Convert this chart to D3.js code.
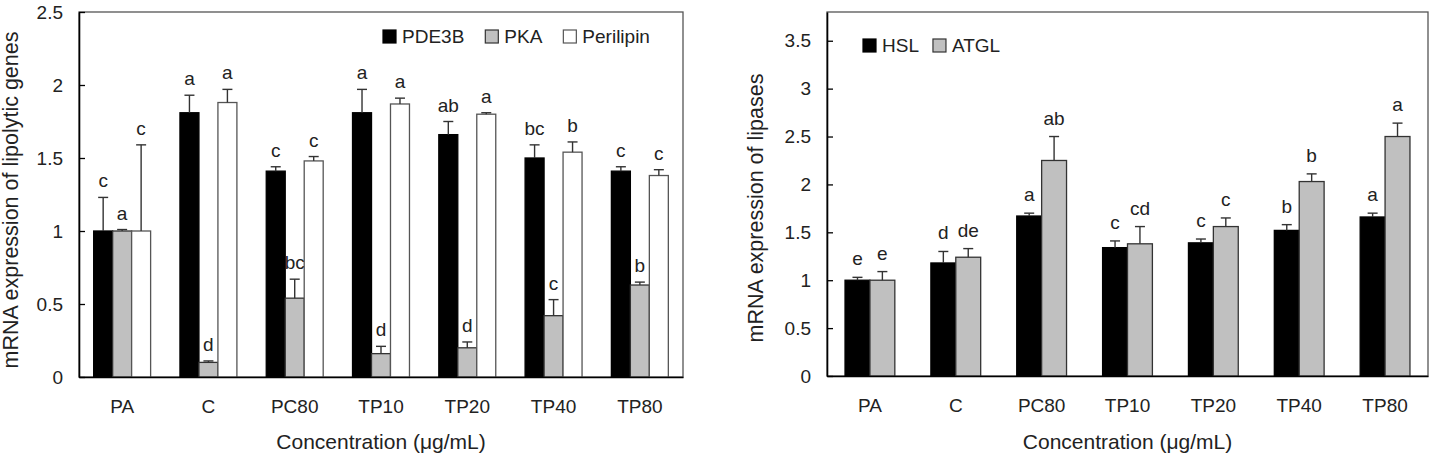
<!DOCTYPE html>
<html>
<head>
<meta charset="utf-8">
<script src="https://cdn.jsdelivr.net/npm/d3@7"></script>
<style>
  body { margin: 0; background: #fff; }
  svg { display: block; font-family: "Liberation Sans", Arial, sans-serif; }
</style>
</head>
<body>
<svg id="chart"></svg>
<script>
var width = 1438;
var height = 457;

// categories on the x axis (same for both panels)
var categories = ["PA", "C", "PC80", "TP10", "TP20", "TP40", "TP80"];

// left panel: lipolytic genes
var lipoNames = ["PDE3B", "PKA", "Perilipin"];
var pde3b = [1.0, 1.81, 1.41, 1.81, 1.66, 1.5, 1.41];
var pde3bErr = [0.23, 0.12, 0.03, 0.16, 0.09, 0.09, 0.03];
var pde3bSig = ["c", "a", "c", "a", "ab", "bc", "c"];
var pka = [1.0, 0.1, 0.54, 0.16, 0.2, 0.42, 0.63];
var pkaErr = [0.01, 0.01, 0.13, 0.05, 0.04, 0.11, 0.02];
var pkaSig = ["a", "d", "bc", "d", "d", "c", "b"];
var perilipin = [1.0, 1.88, 1.48, 1.87, 1.8, 1.54, 1.38];
var perilipinErr = [0.59, 0.09, 0.03, 0.04, 0.01, 0.07, 0.04];
var perilipinSig = ["c", "a", "c", "a", "a", "b", "c"];
var lipoTicks = [0, 0.5, 1, 1.5, 2, 2.5];

// right panel: lipases
var lipaseNames = ["HSL", "ATGL"];
var hsl = [1.0, 1.18, 1.67, 1.34, 1.39, 1.52, 1.66];
var hslErr = [0.03, 0.12, 0.03, 0.07, 0.04, 0.06, 0.04];
var hslSig = ["e", "d", "a", "c", "c", "b", "a"];
var atgl = [1.0, 1.24, 2.25, 1.38, 1.56, 2.03, 2.5];
var atglErr = [0.09, 0.09, 0.25, 0.18, 0.09, 0.08, 0.14];
var atglSig = ["e", "de", "ab", "cd", "c", "b", "a"];
var lipaseTicks = [0, 0.5, 1, 1.5, 2, 2.5, 3, 3.5];

var svg = d3.select("#chart").attr("width", width).attr("height", height);

function drawPanel(cfg) {
  var g = svg.append("g").attr("transform", "translate(" + cfg.left + "," + cfg.top + ")");
  var w = cfg.width, h = cfg.height;

  var x0 = d3.scaleBand().domain(categories).range([0, w])
    .paddingInner(cfg.pad).paddingOuter(cfg.pad / 2);
  var x1 = d3.scaleBand().domain(cfg.names).range([0, x0.bandwidth()]);
  var y = d3.scaleLinear().domain(cfg.domain).range([h, 0]);

  // frame
  g.append("rect").attr("width", w).attr("height", h)
    .attr("fill", "none").attr("stroke", "#555").attr("stroke-width", 1.3);

  var rows = [];
  cfg.names.forEach(function (name, s) {
    categories.forEach(function (c, i) {
      rows.push({ cat: c, name: name, s: s,
        v: cfg.values[s][i], e: cfg.errors[s][i], sig: cfg.sig[s][i] });
    });
  });

  var groups = g.selectAll(".bar").data(rows).enter().append("g").attr("class", "bar")
    .attr("transform", function (d) { return "translate(" + (x0(d.cat) + x1(d.name)) + ",0)"; });

  groups.append("rect")
    .attr("y", function (d) { return y(d.v); })
    .attr("width", x1.bandwidth())
    .attr("height", function (d) { return h - y(d.v); })
    .attr("fill", function (d) { return cfg.fills[d.s]; })
    .attr("stroke", function (d) { return cfg.strokes[d.s]; })
    .attr("stroke-width", 1.3);

  var bw = x1.bandwidth();
  groups.append("line")
    .attr("x1", bw / 2).attr("x2", bw / 2)
    .attr("y1", function (d) { return y(d.v); })
    .attr("y2", function (d) { return y(d.v + d.e); })
    .attr("stroke", "#333").attr("stroke-width", 1.4);
  groups.append("line")
    .attr("x1", bw / 2 - 5).attr("x2", bw / 2 + 5)
    .attr("y1", function (d) { return y(d.v + d.e); })
    .attr("y2", function (d) { return y(d.v + d.e); })
    .attr("stroke", "#333").attr("stroke-width", 1.4);
  groups.append("text")
    .attr("x", bw / 2)
    .attr("y", function (d) { return y(d.v + d.e) - cfg.sigGap; })
    .attr("text-anchor", "middle")
    .attr("font-size", 19).attr("fill", "#222")
    .text(function (d) { return d.sig; });

  // axes
  var yAxis = g.append("g").call(d3.axisLeft(y).tickValues(cfg.ticks)
    .tickFormat(function (d) { return String(d); })
    .tickSizeInner(-6).tickSizeOuter(0).tickPadding(16));
  yAxis.select(".domain").attr("stroke", "#000").attr("stroke-width", 1.6);
  yAxis.selectAll(".tick line").attr("stroke", "#000").attr("stroke-width", 1.3);
  yAxis.selectAll("text").attr("font-size", 19).attr("fill", "#222")
    .style("font-family", "Liberation Sans, Arial, sans-serif");

  var xAxis = g.append("g").attr("transform", "translate(0," + h + ")")
    .call(d3.axisBottom(x0).tickSize(0).tickPadding(23));
  xAxis.select(".domain").attr("stroke", "#000").attr("stroke-width", 1.6);
  xAxis.selectAll("text").attr("font-size", 19).attr("fill", "#222")
    .style("font-family", "Liberation Sans, Arial, sans-serif");

  // titles
  svg.append("text")
    .attr("x", cfg.left + w / 2).attr("y", 449)
    .attr("text-anchor", "middle").attr("font-size", 21).attr("fill", "#222")
    .text("Concentration (μg/mL)");
  svg.append("text")
    .attr("transform", "translate(" + cfg.yTitleX + "," + cfg.yTitleY + ") rotate(-90)")
    .attr("text-anchor", "middle").attr("font-size", 21.5).attr("fill", "#222")
    .text(cfg.yTitle);

  // legend
  var lx = cfg.legendX;
  cfg.names.forEach(function (name, s) {
    svg.append("rect").attr("x", lx).attr("y", cfg.legendY - 13)
      .attr("width", 13).attr("height", 13)
      .attr("fill", cfg.fills[s]).attr("stroke", cfg.strokes[s]).attr("stroke-width", 1.2);
    var t = svg.append("text").attr("x", lx + 19).attr("y", cfg.legendY)
      .attr("font-size", 19).attr("fill", "#222").text(name);
    lx += 19 + t.node().getComputedTextLength() + cfg.legendGap;
  });
}

drawPanel({
  left: 79, top: 12, width: 604, height: 365,
  pad: 0.34, domain: [0, 2.5], ticks: lipoTicks,
  names: lipoNames,
  values: [pde3b, pka, perilipin],
  errors: [pde3bErr, pkaErr, perilipinErr],
  sig: [pde3bSig, pkaSig, perilipinSig],
  fills: ["#000", "#c0c0c0", "#fff"],
  strokes: ["#000", "#333", "#555"],
  sigGap: 10,
  yTitle: "mRNA expression of lipolytic genes", yTitleX: 18, yTitleY: 200,
  legendX: 383, legendY: 43, legendGap: 21
});

drawPanel({
  left: 827, top: 12, width: 601, height: 364,
  pad: 0.42, domain: [0, 3.8], ticks: lipaseTicks,
  names: lipaseNames,
  values: [hsl, atgl],
  errors: [hslErr, atglErr],
  sig: [hslSig, atglSig],
  fills: ["#000", "#c0c0c0"],
  strokes: ["#000", "#333"],
  sigGap: 12,
  yTitle: "mRNA expression of lipases", yTitleX: 763, yTitleY: 208,
  legendX: 863, legendY: 52, legendGap: 14
});
</script>
</body>
</html>
